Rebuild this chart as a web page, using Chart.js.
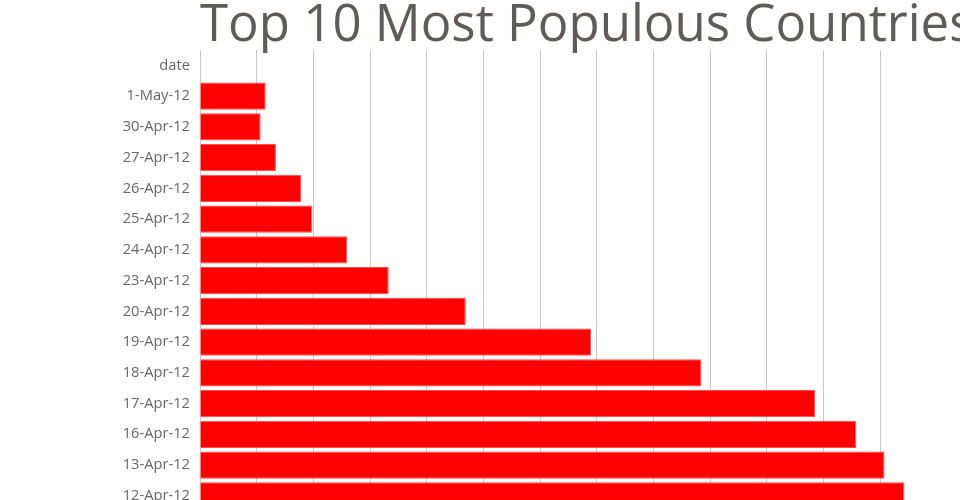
<!DOCTYPE html>
<html>
<head>
<meta charset="utf-8">
<script src="https://cdn.jsdelivr.net/npm/chart.js@4/dist/chart.umd.min.js"></script>
<style>
    html, body { margin: 0; padding: 0; background: #fff; overflow: hidden; }
    canvas { display: block; }
</style>
</head>
<body>
<canvas id="chart" width="960" height="530"></canvas>
<script>
// Chart data
const titleText = 'Top 10 Most Populous Countries';
const dates = ['date', '1-May-12', '30-Apr-12', '27-Apr-12', '26-Apr-12', '25-Apr-12', '24-Apr-12',
    '23-Apr-12', '20-Apr-12', '19-Apr-12', '18-Apr-12', '17-Apr-12', '16-Apr-12', '13-Apr-12', '12-Apr-12'];
const values = [null, 1.16, 1.07, 1.34, 1.79, 1.98, 2.60, 3.33, 4.69, 6.90, 8.85, 10.86, 11.58, 12.08, 12.43];
const axisMax = 12;

// Title drawn by hand so it starts at the plot's left edge and is not squeezed
const leftTitle = {
    id: 'leftTitle',
    afterDraw(chart) {
        const ctx = chart.ctx;
        ctx.save();
        ctx.font = '51px "Open Sans"';
        ctx.fillStyle = '#5f5b58';
        ctx.textAlign = 'left';
        ctx.textBaseline = 'alphabetic';
        ctx.fillText(titleText, chart.chartArea.left, 41);
        ctx.restore();
    }
};

const ctx = document.getElementById('chart').getContext('2d');
new Chart(ctx, {
    type: 'bar',
    data: {
        labels: dates,
        datasets: [{
            data: values,
            backgroundColor: '#ff0000',
            borderColor: '#ff4d4d',
            borderWidth: 1,
            barPercentage: 0.89,
            categoryPercentage: 1,
            clip: false
        }]
    },
    options: {
        indexAxis: 'y',
        responsive: false,
        animation: false,
        layout: {
            padding: { top: 50, right: 80, bottom: 0, left: 0 }
        },
        scales: {
            x: {
                min: 0,
                max: axisMax,
                afterFit: function(scale) {
                    scale.height = 0;
                },
                ticks: { display: false, stepSize: 1 },
                grid: { color: '#c8c8c8', drawTicks: false },
                border: { display: false }
            },
            y: {
                afterFit: function(scale) {
                    scale.width = 200;
                },
                ticks: {
                    color: '#666',
                    padding: 10,
                    font: { family: '"Open Sans"', size: 14.7 }
                },
                grid: { display: false, drawTicks: false },
                border: { display: true, color: '#c8c8c8' }
            }
        },
        plugins: {
            legend: { display: false },
            title: { display: false },
            tooltip: { enabled: false }
        }
    },
    plugins: [leftTitle]
});
</script>
</body>
</html>
